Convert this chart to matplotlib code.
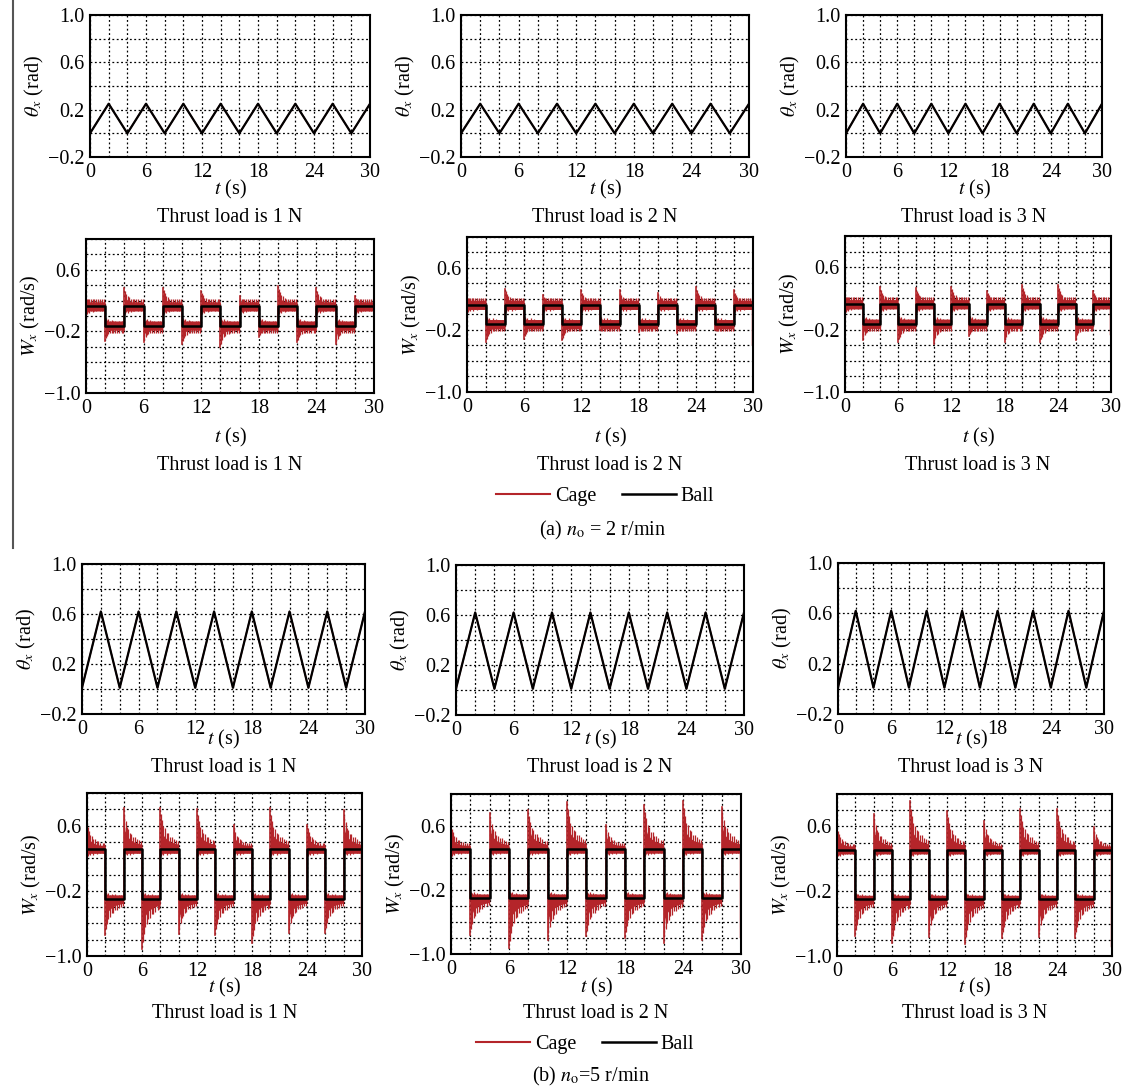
import matplotlib.pyplot as plt
from matplotlib.lines import Line2D
from matplotlib.ticker import MultipleLocator

plt.rcParams['font.family'] = 'Liberation Serif'
plt.rcParams['mathtext.fontset'] = 'stix'
plt.rcParams['font.size'] = 14.5

W, H = 1126, 1089
RED = '#b4252a'

# angle: vertices of the triangle waves
theta_t = [0, 2, 4, 6, 8, 10, 12, 14, 16, 18, 20, 22, 24, 26, 28, 30]
theta_a = [0.0, 0.25, 0.0, 0.25, 0.0, 0.25, 0.0, 0.25, 0.0, 0.25, 0.0, 0.25, 0.0, 0.25, 0.0, 0.25]
theta_b = [0.01, 0.62, 0.01, 0.62, 0.01, 0.62, 0.01, 0.62, 0.01, 0.62, 0.01, 0.62, 0.01, 0.62, 0.01, 0.62]

# angular speed: switching times and ball levels per segment
sw_t = [0, 2, 4, 6, 8, 10, 12, 14, 16, 18, 20, 22, 24, 26, 28, 30]
ball_a = [0.125, -0.125, 0.125, -0.125, 0.125, -0.125, 0.125, -0.125,
          0.125, -0.125, 0.125, -0.125, 0.125, -0.125, 0.125]
ball_b = [0.31, -0.30, 0.31, -0.30, 0.31, -0.30, 0.31, -0.30,
          0.31, -0.30, 0.31, -0.30, 0.31, -0.30, 0.31]

# cage peak values: start of each segment, last one at t = 30
cage_a1 = [0.24, -0.32, 0.36, -0.34, 0.37, -0.36, 0.33, -0.40, 0.26, -0.27, 0.39, -0.34, 0.36, -0.37, 0.26, 0.15]
cage_a2 = [0.23, -0.35, 0.33, -0.31, 0.25, -0.33, 0.31, -0.20, 0.31, -0.22, 0.28, -0.24, 0.35, -0.20, 0.31, -0.37]
cage_a3 = [0.24, -0.33, 0.34, -0.36, 0.33, -0.38, 0.35, -0.28, 0.29, -0.36, 0.37, -0.36, 0.37, -0.33, 0.30, -0.25]
cage_b1 = [0.63, -0.74, 0.81, -0.92, 0.82, -0.73, 0.80, -0.74, 0.61, -0.84, 0.81, -0.72, 0.61, -0.72, 0.79, -0.76]
cage_b2 = [0.61, -0.76, 0.76, -0.93, 0.80, -0.82, 0.90, -0.78, 0.61, -0.80, 0.86, -0.86, 0.91, -0.82, 0.84, -0.78]
cage_b3 = [0.59, -0.75, 0.75, -0.84, 0.91, -0.76, 0.79, -0.85, 0.67, -0.78, 0.82, -0.76, 0.82, -0.78, 0.59, -0.86]

# how the cage overshoot dies out after each switch
decay_t = [0.0, 0.04, 0.15, 0.35, 0.7, 1.1, 1.5, 2.0]
decay_frac = [1.0, 0.62, 0.45, 0.33, 0.24, 0.18, 0.15, 0.12]

# rattle hairs seen inside a segment (time after switch, share of overshoot,
# and length on the other side in band units)
hair_dt = [0.08, 0.2, 0.33, 0.5, 0.68, 0.85, 1.05, 1.25, 1.45, 1.7, 1.9]
hair_out = [0.85, 0.7, 0.55, 0.5, 0.4, 0.38, 0.3, 0.3, 0.25, 0.22, 0.2]
hair_in = [1.6, 1.2, 1.4, 1.0, 1.3, 0.9, 1.1, 0.8, 1.0, 0.9, 0.8]

loads = ['1', '2', '3']

# axes boxes in pixels: left, top, right, bottom
rects = {
    0: [(90, 15, 370, 157), (461, 15, 749, 157), (846, 15, 1102, 157)],
    1: [(86, 239, 374, 393), (467, 237, 753, 392), (845, 236, 1111, 392)],
    2: [(82, 564, 365, 714), (456, 565, 744, 715), (838, 563, 1104, 714)],
    3: [(87, 793, 362, 956), (451, 794, 741, 954), (837, 794, 1112, 956)],
}
xlab_y = {0: 189, 1: 437, 2: 739, 3: 987}
title_y = {0: 217, 1: 466, 2: 767, 3: 1014}


def fy(y):
    return 1 - y / H


def make_ax(fig, r, ylim, yticks):
    l, t, rr, b = r
    ax = fig.add_axes([l / W, fy(b), (rr - l) / W, (b - t) / H])
    ax.set_xlim(0, 30)
    ax.set_ylim(*ylim)
    ax.set_xticks([0, 6, 12, 18, 24, 30])
    ax.xaxis.set_minor_locator(MultipleLocator(2))
    ax.set_yticks(yticks)
    ax.set_yticklabels([f'{v:.1f}'.replace('-', '\u2212') for v in yticks])
    ax.yaxis.set_minor_locator(MultipleLocator(0.2))
    ax.set_axisbelow(True)
    ax.grid(True, which='both', color='k', ls=(0, (1.5, 2.0)), lw=0.9)
    ax.tick_params(which='both', length=0, pad=4)
    for s in ax.spines.values():
        s.set_linewidth(1.5)
    return ax


def draw_cage(ax, levels, spikes, band):
    for k in range(len(levels)):
        t0 = sw_t[k]
        L = levels[k]
        S = spikes[k]
        sgn = 1 if S >= L else -1
        over = abs(S - L)
        tt = [t0 + d for d in decay_t]
        outer = [L + sgn * max(over * f, band) for f in decay_frac]
        inner = [L - sgn * band] * len(tt)
        ax.fill_between(tt, outer, inner, color=RED, lw=0, zorder=2)
        ht = [t0 + d for d in hair_dt]
        hi = [L + sgn * max(over * f, 1.5 * band) for f in hair_out]
        lo = [L - sgn * band * f for f in hair_in]
        ax.vlines(ht, lo, hi, color=RED, lw=0.9, zorder=2)
        if k > 0:
            ax.plot([t0, t0], [levels[k - 1], S], color=RED, lw=1.2, zorder=2)
    ax.plot([30, 30], [levels[-1], spikes[-1]], color=RED, lw=2.5, zorder=2)


fig = plt.figure(figsize=(W / 100, H / 100), dpi=100)

thetas = {0: theta_a, 2: theta_b}
balls = {1: ball_a, 3: ball_b}
cages = {1: [cage_a1, cage_a2, cage_a3], 3: [cage_b1, cage_b2, cage_b3]}
bands = {1: 0.06, 3: 0.05}

for row in range(4):
    for c in range(3):
        r = rects[row][c]
        if row in thetas:
            ax = make_ax(fig, r, (-0.2, 1.0), [-0.2, 0.2, 0.6, 1.0])
            ax.plot(theta_t, thetas[row], color=RED, lw=1.1, zorder=2)
            ax.plot(theta_t, thetas[row], color='k', lw=1.6, zorder=3)
            ylab = r'$\theta_x$ (rad)'
        else:
            ax = make_ax(fig, r, (-1.0, 1.0), [-1.0, -0.2, 0.6])
            draw_cage(ax, balls[row], cages[row][c], bands[row])
            ax.step(sw_t, balls[row] + [balls[row][-1]], where='post',
                    color='k', lw=1.8, zorder=3)
            ylab = r'$W_x$ (rad/s)'
        ax.set_ylabel(ylab)
        ax.yaxis.set_label_coords(-44 / (r[2] - r[0]), 0.5)
        xc = (r[0] + r[2]) / 2 / W
        fig.text(xc, fy(xlab_y[row]), r'$t$ (s)', ha='center', va='center')
        fig.text(xc, fy(title_y[row]), f'Thrust load is {loads[c]} N',
                 ha='center', va='center')

handles = [Line2D([], [], color=RED, lw=1.5), Line2D([], [], color='k', lw=1.8)]
for cx, cy in [(605, 496), (585, 1044)]:
    fig.legend(handles, ['Cage', 'Ball'], loc='center', ncol=2, frameon=False,
               bbox_to_anchor=(cx / W, fy(cy)), handlelength=2.7,
               handletextpad=0.25, columnspacing=1.25, borderpad=0)

fig.text(603 / W, fy(530), r'(a) $n_\mathrm{o}$ = 2 r/min', ha='center', va='center')
fig.text(591 / W, fy(1076), r'(b) $n_\mathrm{o}$=5 r/min', ha='center', va='center')

# page border line on the left
fig.add_artist(Line2D([13 / W, 13 / W], [fy(0), fy(548)], color='#555555', lw=1.5))

fig.savefig('out.png', dpi=100)
